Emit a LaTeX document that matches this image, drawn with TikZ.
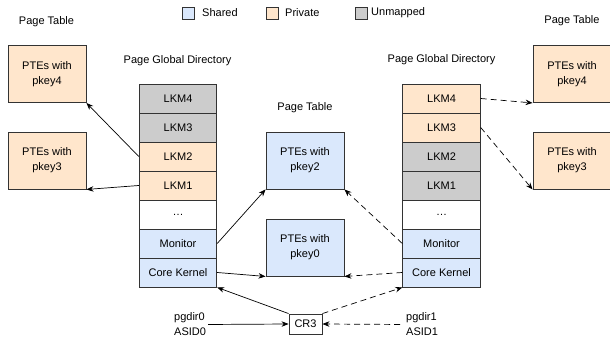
\documentclass[tikz,border=0pt]{standalone}
\usepackage{fontspec}
\setmainfont{Liberation Sans}
\usetikzlibrary{arrows.meta}

\definecolor{sharedblue}{HTML}{DAE8FC}
\definecolor{privorange}{HTML}{FFE6CC}
\definecolor{unmapgray}{HTML}{CCCCCC}
\definecolor{edgegray}{HTML}{333333}

\tikzset{
  cell/.style={draw=edgegray, line width=0.9pt, minimum width=77.5pt, minimum height=29pt, inner sep=0pt},
  shared/.style={cell, fill=sharedblue},
  private/.style={cell, fill=privorange},
  unmapped/.style={cell, fill=unmapgray},
  blank/.style={cell, fill=white},
  ptes/.style={draw=edgegray, line width=0.9pt, minimum width=78pt, minimum height=57pt, inner sep=0pt, align=center},
  heading/.style={inner sep=0pt},
  keybox/.style={draw=edgegray, line width=0.8pt, minimum size=12pt, inner sep=0pt},
  keytext/.style={anchor=west, inner sep=0pt},
  ptr/.style={-{Stealth[length=7pt,width=5.5pt]}, line width=0.7pt},
  dptr/.style={ptr, dash pattern=on 6pt off 4pt},
}

\begin{document}
\begin{tikzpicture}[x=1pt, y=-1pt, font=\fontsize{11}{15}\selectfont]
\useasboundingbox (0,0) rectangle (610,339);

\node[keybox, fill=sharedblue] (keyS) at (188.5,13) {};
\node[keytext] (keySt) at (202,13) {Shared};
\node[keybox, fill=privorange] (keyP) at (272,13) {};
\node[keytext] (keyPt) at (285,13) {Private};
\node[keybox, fill=unmapgray] (keyU) at (361,13) {};
\node[keytext] (keyUt) at (371,13) {Unmapped};

\node[heading] (ptL) at (46.5,22) {Page Table};
\node[heading] (ptR) at (572,21) {Page Table};
\node[heading] (ptM) at (305,108) {Page Table};
\node[heading] (pgdL) at (177.5,61) {Page Global Directory};
\node[heading] (pgdR) at (441.5,60) {Page Global Directory};

\node[ptes, fill=privorange] (ptL4) at (47,74) {PTEs with\\pkey4};
\node[ptes, fill=privorange] (ptL3) at (47,160.5) {PTEs with\\pkey3};
\node[ptes, fill=sharedblue] (ptM2) at (305,160.5) {PTEs with\\pkey2};
\node[ptes, fill=sharedblue] (ptM0) at (305,247.5) {PTEs with\\pkey0};
\node[ptes, fill=privorange] (ptR4) at (572,74) {PTEs with\\pkey4};
\node[ptes, fill=privorange] (ptR3) at (572,160.5) {PTEs with\\pkey3};

\node[unmapped] (pgdL4) at (178,98.5) {LKM4};
\node[unmapped] (pgdL3) at (178,127.5) {LKM3};
\node[private] (pgdL2) at (178,156.5) {LKM2};
\node[private] (pgdL1) at (178,185.5) {LKM1};
\node[blank] (pgdLdots) at (178,214.5) {\dots};
\node[shared] (pgdLmon) at (178,243.5) {Monitor};
\node[shared] (pgdLcore) at (178,272.5) {Core Kernel};

\node[private] (pgdR4) at (441.5,98.5) {LKM4};
\node[private] (pgdR3) at (441.5,127.5) {LKM3};
\node[unmapped] (pgdR2) at (441.5,156.5) {LKM2};
\node[unmapped] (pgdR1) at (441.5,185.5) {LKM1};
\node[blank] (pgdRdots) at (441.5,214.5) {\dots};
\node[shared] (pgdRmon) at (441.5,243.5) {Monitor};
\node[shared] (pgdRcore) at (441.5,272.5) {Core Kernel};

\node[draw=edgegray, line width=0.9pt, fill=white, minimum width=33pt, minimum height=20pt, inner sep=0pt] (cr3) at (305.5,324) {CR3};
\node[anchor=west, align=left, inner sep=0pt] (asid0) at (174,324.5) {pgdir0\\ASID0};
\node[anchor=west, align=left, inner sep=0pt] (asid1) at (406,324.5) {pgdir1\\ASID1};

\draw[ptr] (pgdL2.west) -- (ptL4.south east);
\draw[ptr] (pgdL1.west) -- (ptL3.south east);
\draw[ptr] (pgdLmon.east) -- (ptM2.south west);
\draw[ptr] (pgdLcore.east) -- (ptM0.south west);
\draw[dptr] (pgdRmon.west) -- (ptM2.south east);
\draw[dptr] (pgdRcore.west) -- (ptM0.south east);
\draw[dptr] (pgdR4.east) -- (ptR4.south west);
\draw[dptr] (pgdR3.east) -- (ptR3.south west);
\draw[ptr] (cr3.north west) -- (pgdLcore.south east);
\draw[dptr] (cr3.north east) -- (pgdRcore.south west);
\draw[ptr, shorten <=2pt] (asid0.east) -- (cr3.west);
\draw[dptr, shorten <=6pt] (asid1.west) -- (cr3.east);
\end{tikzpicture}
\end{document}
